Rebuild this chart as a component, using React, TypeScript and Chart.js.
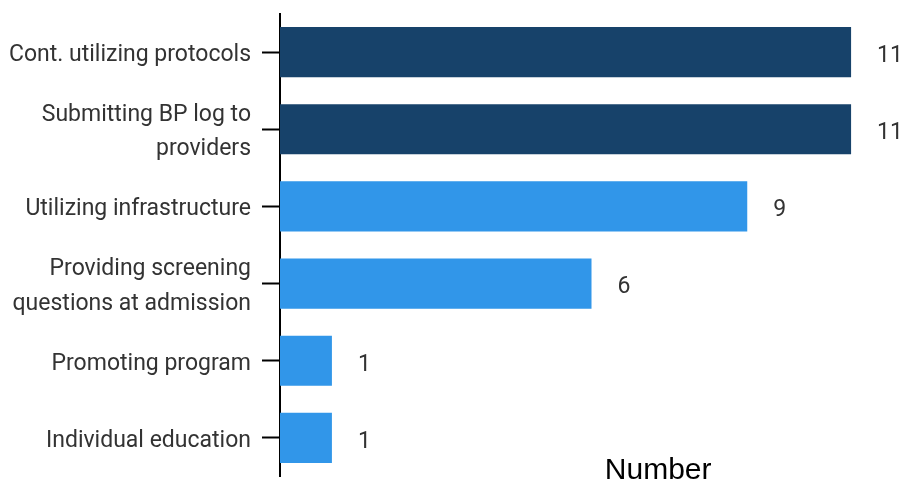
import React, { useEffect, useRef } from "react";
import { Chart, registerables } from "chart.js";

Chart.register(...registerables);

const categories: (string | string[])[] = [
  "Cont. utilizing protocols",
  ["Submitting BP log to", "providers"],
  "Utilizing infrastructure",
  ["Providing screening", "questions at admission"],
  "Promoting program",
  "Individual education",
];
const values = [11, 11, 9, 6, 1, 1];
const barColors = ["#17426a", "#17426a", "#3196e9", "#3196e9", "#3196e9", "#3196e9"];
const axisTitle = "Number";

const valueLabels = {
  id: "valueLabels",
  afterDatasetsDraw(chart: any) {
    const ctx = chart.ctx;
    const meta = chart.getDatasetMeta(0);
    ctx.save();
    ctx.font = "23px Roboto";
    ctx.fillStyle = "#333333";
    ctx.textAlign = "left";
    ctx.textBaseline = "middle";
    meta.data.forEach((bar: any, i: number) => {
      ctx.fillText(String(values[i]), bar.x + 26, bar.y + 4);
    });
    ctx.restore();
  },
};

const titlePlugin = {
  id: "xTitle",
  afterDraw(chart: any) {
    const ctx = chart.ctx;
    const area = chart.chartArea;
    ctx.save();
    ctx.font = "30px 'Liberation Sans', Arial, sans-serif";
    ctx.fillStyle = "#000000";
    ctx.textAlign = "center";
    ctx.textBaseline = "alphabetic";
    ctx.fillText(axisTitle, area.left + (area.right - area.left) * 0.607, 479);
    ctx.restore();
  },
};

export default function App() {
  const ref = useRef<HTMLCanvasElement>(null);
  useEffect(() => {
    if (!ref.current) return;
    const chart = new Chart(ref.current, {
      type: "bar",
      data: {
        labels: categories,
        datasets: [
          {
            data: values,
            backgroundColor: barColors,
            barPercentage: 0.65,
            categoryPercentage: 1,
          },
        ],
      },
      options: {
        indexAxis: "y",
        animation: false,
        responsive: false,
        maintainAspectRatio: false,
        layout: { padding: { top: 13.5, bottom: 3.5, right: 0, left: 0 } },
        plugins: { legend: { display: false }, tooltip: { enabled: false } },
        scales: {
          x: { display: false, min: 0, max: 12 },
          y: {
            afterFit(scale: any) {
              scale.width = 280;
              scale.paddingTop = 0;
              scale.paddingBottom = 0;
            },
            border: { display: true, color: "#000000", width: 2 },
            grid: {
              offset: false,
              drawOnChartArea: false,
              drawTicks: true,
              tickLength: 18,
              tickColor: "#000000",
              tickWidth: 2,
            },
            ticks: {
              padding: 11,
              labelOffset: 3,
              color: "#333333",
              font: { family: "Roboto", size: 23, lineHeight: 1.5 },
            },
          },
        },
      },
      plugins: [valueLabels, titlePlugin],
    });
    return () => chart.destroy();
  }, []);
  return (
    <div style={{ position: "fixed", left: 0, top: 0, width: 903, height: 480, background: "#fff" }}>
      <canvas ref={ref} width={903} height={480} style={{ width: 903, height: 480 }} />
    </div>
  );
}
